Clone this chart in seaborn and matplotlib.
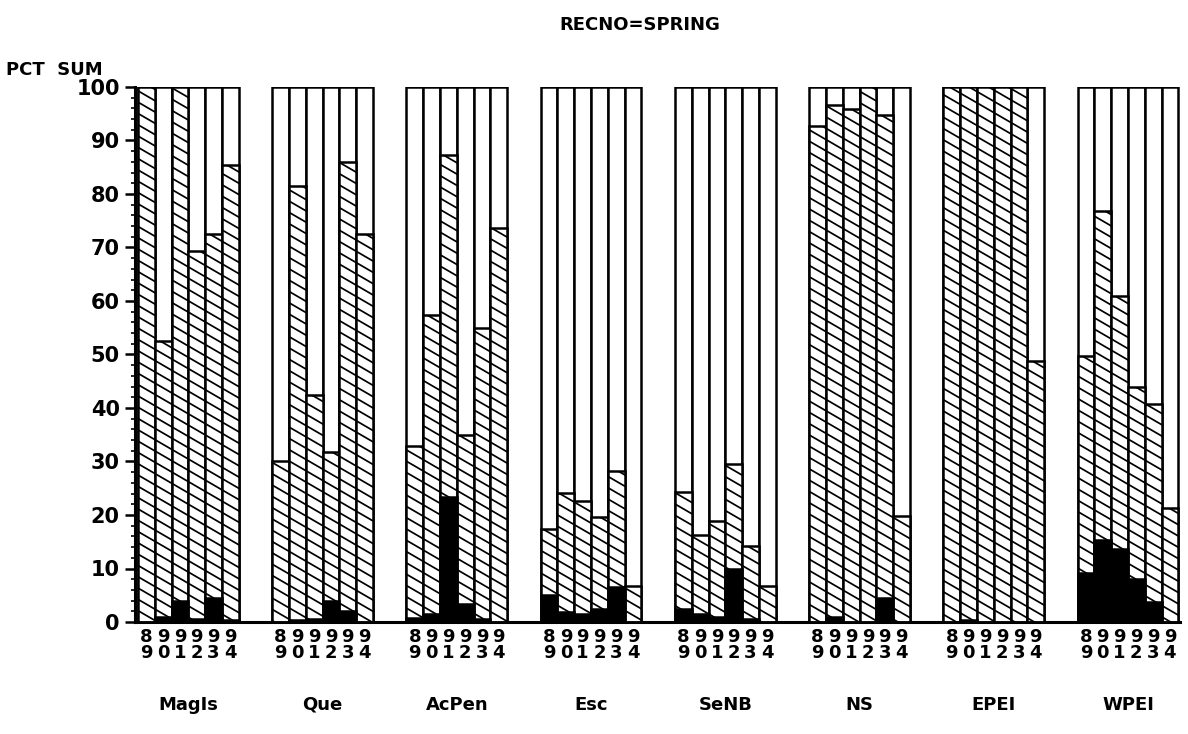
import matplotlib
matplotlib.use("Agg")
import matplotlib.pyplot as plt
from matplotlib.collections import LineCollection
from matplotlib.transforms import IdentityTransform
import seaborn as sns
import numpy as np
import pandas as pd

# ---- data ----
groups = ["MagIs", "Que", "AcPen", "Esc", "SeNB", "NS", "EPEI", "WPEI"]
years = ["89", "90", "91", "92", "93", "94"]

# black (bottom) segment, percent
black_pct = [
    [0.0, 1.0, 4.0, 0.5, 4.4, 0.3],     # MagIs
    [0.0, 0.3, 0.5, 4.0, 2.0, 0.0],     # Que
    [0.8, 1.5, 23.4, 3.3, 0.5, 0.0],    # AcPen
    [5.0, 1.8, 1.5, 2.5, 6.5, 0.0],     # Esc
    [2.5, 1.5, 1.0, 10.0, 0.5, 0.0],    # SeNB
    [0.0, 1.0, 0.0, 0.0, 4.4, 0.0],     # NS
    [0.0, 0.3, 0.0, 0.0, 0.0, 0.0],     # EPEI
    [9.2, 15.4, 13.7, 8.1, 3.8, 0.0],   # WPEI
]
# top of hatched (middle) segment = cumulative percent
hatch_top = [
    [100.0, 52.5, 100.0, 69.3, 72.5, 85.4],
    [30.0, 81.5, 42.4, 31.7, 86.0, 72.5],
    [32.9, 57.4, 87.2, 35.0, 55.0, 73.6],
    [17.3, 24.1, 22.6, 19.6, 28.3, 6.7],
    [24.3, 16.2, 18.9, 29.5, 14.2, 6.7],
    [92.8, 96.6, 95.8, 100.0, 94.8, 19.9],
    [100.0, 100.0, 100.0, 100.0, 100.0, 48.8],
    [49.8, 76.8, 60.9, 44.0, 40.8, 21.3],
]
total_pct = 100.0

# ---- build long table ----
n_bars = len(years)
gap = 2
rows = []
for gi, g in enumerate(groups):
    for bi, y in enumerate(years):
        pos = gi * (n_bars + gap) + bi + 0.5
        rows.append(dict(group=g, year=y, pos=pos,
                         total=total_pct,
                         hatch=hatch_top[gi][bi],
                         black=black_pct[gi][bi]))
df = pd.DataFrame(rows)

# ---- style ----
sns.set_style("white")
plt.rcParams["font.family"] = ["DejaVu Sans"]
plt.rcParams["text.color"] = "black"
plt.rcParams["xtick.color"] = "black"
plt.rcParams["ytick.color"] = "black"

fig = plt.figure(figsize=(11.88, 7.34), dpi=100)
ax = fig.add_axes([135 / 1188, 1 - 622 / 734, 1045 / 1188, 535 / 734])

lw = 1.8
sns.barplot(data=df, x="pos", y="total", native_scale=True, width=1,
            color="white", edgecolor="black", linewidth=lw,
            errorbar=None, ax=ax, zorder=2)
n0 = len(ax.patches)
sns.barplot(data=df, x="pos", y="hatch", native_scale=True, width=1,
            color="white", edgecolor="black", linewidth=lw,
            errorbar=None, ax=ax, zorder=3)
hatched = ax.patches[n0:]
for p in hatched:
    p.set_facecolor("white")
sns.barplot(data=df, x="pos", y="black", native_scale=True, width=1,
            color="black", edgecolor="black", linewidth=lw,
            errorbar=None, ax=ax, zorder=5)

ax.set_xlim(-0.18, 62.1)
ax.set_ylim(0, 100)

# custom shallow diagonal hatching (pixel space, clipped to each bar)
slope = 0.58     # drop in px per px to the right
spacing = 11.3   # vertical distance between hatch lines in px
for p in hatched:
    bb = p.get_window_extent()
    if bb.height < 1:
        continue
    x0, x1 = bb.x0, bb.x1
    kmin = int(np.floor((bb.y0 + slope * x0) / spacing)) - 1
    kmax = int(np.ceil((bb.y1 + slope * x1) / spacing)) + 1
    segs = []
    for k in range(kmin, kmax + 1):
        c = k * spacing
        segs.append([(x0 - 2, c - slope * (x0 - 2)),
                     (x1 + 2, c - slope * (x1 + 2))])
    lc = LineCollection(segs, colors="black", linewidths=1.25,
                        transform=IdentityTransform(), zorder=4)
    ax.add_collection(lc, autolim=False)
    lc.set_clip_path(p)

# axes decoration
for s in ["top", "right"]:
    ax.spines[s].set_visible(False)
for s in ["left", "bottom"]:
    ax.spines[s].set_linewidth(2.2)
    ax.spines[s].set_color("black")

ax.set_yticks(np.arange(0, 101, 10))
ax.set_yticks(np.arange(0, 101, 2), minor=True)
ax.set_yticklabels([str(v) for v in range(0, 101, 10)],
                   fontsize=15, fontweight="bold", color="black")
ax.tick_params(axis="y", which="major", direction="out", length=7,
               width=1.8, pad=4, left=True, colors="black")
ax.tick_params(axis="y", which="minor", direction="out", length=3,
               width=1.2, left=True, colors="black")

ax.set_xticks(df["pos"])
ax.set_xticklabels([y[0] + "\n" + y[1] for y in df["year"]],
                   fontsize=13, fontweight="bold", linespacing=0.9,
                   color="black")
ax.tick_params(axis="x", which="both", length=0, pad=4)
ax.set_xlabel("")
ax.set_ylabel("")

# group names
for gi, g in enumerate(groups):
    cx = gi * (n_bars + gap) + n_bars / 2
    ax.text(cx, -0.155, g, transform=ax.get_xaxis_transform(),
            ha="center", va="center", fontsize=13, fontweight="bold",
            color="black")

fig.text(640 / 1188, 1 - 25 / 734, "RECNO=SPRING", ha="center",
         va="center", fontsize=13, fontweight="bold", color="black")
fig.text(6 / 1188, 1 - 70 / 734, "PCT  SUM", ha="left", va="center",
         fontsize=13, fontweight="bold", color="black")

fig.savefig("out.png", dpi=100, facecolor="white")
